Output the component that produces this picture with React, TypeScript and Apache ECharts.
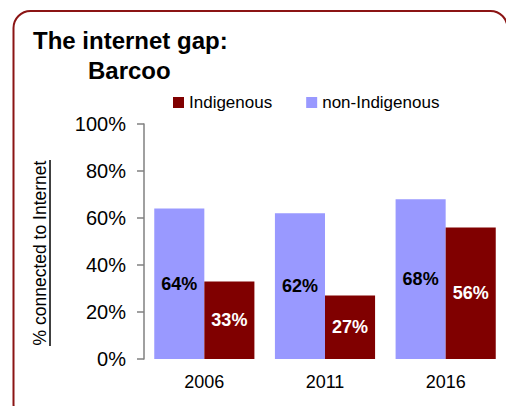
import React, { useEffect, useRef } from "react";
import * as echarts from "echarts";

const categories = ["2006", "2011", "2016"];
const nonIndigenous = [64, 62, 68];
const indigenous = [33, 27, 56];
const yTicks = [0, 20, 40, 60, 80, 100];

export default function App() {
  const ref = useRef<HTMLDivElement>(null);
  useEffect(() => {
    if (!ref.current) return;
    const chart = echarts.init(ref.current, null, { renderer: "svg" });
    const font = "Liberation Sans, Arial, sans-serif";
    chart.setOption({
      animation: false,
      backgroundColor: "#ffffff",
      textStyle: { fontFamily: font },
      grid: { left: 144, top: 124, bottom: 47, right: -9, containLabel: false },
      legend: {
        data: ["Indigenous", "non-Indigenous"],
        left: 173,
        top: 94,
        padding: 0,
        itemWidth: 11,
        itemHeight: 11,
        itemGap: 34,
        icon: "rect",
        textStyle: { fontSize: 17, color: "#000", fontFamily: font },
      },
      xAxis: {
        type: "category",
        data: categories,
        axisLine: { show: false },
        axisTick: { show: false },
        axisLabel: { fontSize: 18, color: "#000", margin: 14, fontFamily: font },
      },
      yAxis: {
        type: "value",
        min: yTicks[0],
        max: yTicks[yTicks.length - 1],
        interval: 20,
        splitLine: { show: false },
        axisLine: { show: true, lineStyle: { color: "#808080", width: 1.5 } },
        axisTick: { show: true, length: 7, lineStyle: { color: "#808080", width: 1.5 } },
        axisLabel: {
          fontSize: 20,
          color: "#000",
          margin: 18,
          fontFamily: font,
          formatter: (v: number) => v + "%",
        },
      },
      series: [
        {
          name: "non-Indigenous",
          type: "bar",
          data: nonIndigenous,
          barGap: "0%",
          barCategoryGap: "17%",
          itemStyle: { color: "#9999FF" },
          label: {
            show: true,
            position: "inside",
            formatter: "{c}%",
            color: "#000",
            fontWeight: "bold",
            fontSize: 18,
            fontFamily: font,
          },
        },
        {
          name: "Indigenous",
          type: "bar",
          data: indigenous,
          barGap: "0%",
          barCategoryGap: "17%",
          itemStyle: { color: "#800000" },
          label: {
            show: true,
            position: "inside",
            formatter: "{c}%",
            color: "#fff",
            fontWeight: "bold",
            fontSize: 18,
            fontFamily: font,
          },
        },
      ],
      graphic: [
        {
          type: "rect",
          shape: { x: 13.5, y: 11, width: 494, height: 410, r: 17 },
          style: { fill: "none", stroke: "#8B1414", lineWidth: 2 },
          z: 100,
        },
        {
          type: "text",
          left: 33,
          top: 28,
          style: { text: "The internet gap:", font: "bold 24px " + font, fill: "#000" },
        },
        {
          type: "text",
          left: 88,
          top: 58,
          style: { text: "Barcoo", font: "bold 24px " + font, fill: "#000" },
        },
        {
          type: "text",
          x: 40,
          y: 253,
          rotation: Math.PI / 2,
          style: {
            text: "% connected to Internet",
            font: "17.5px " + font,
            fill: "#000",
            align: "center",
            verticalAlign: "middle",
          },
        },
        {
          type: "line",
          shape: { x1: 50, y1: 160, x2: 50, y2: 346 },
          style: { stroke: "#000", lineWidth: 1.5 },
        },
      ],
    });
    return () => chart.dispose();
  }, []);
  return (
    <div
      ref={ref}
      style={{ position: "fixed", left: 0, top: 0, width: 506, height: 406 }}
    />
  );
}
